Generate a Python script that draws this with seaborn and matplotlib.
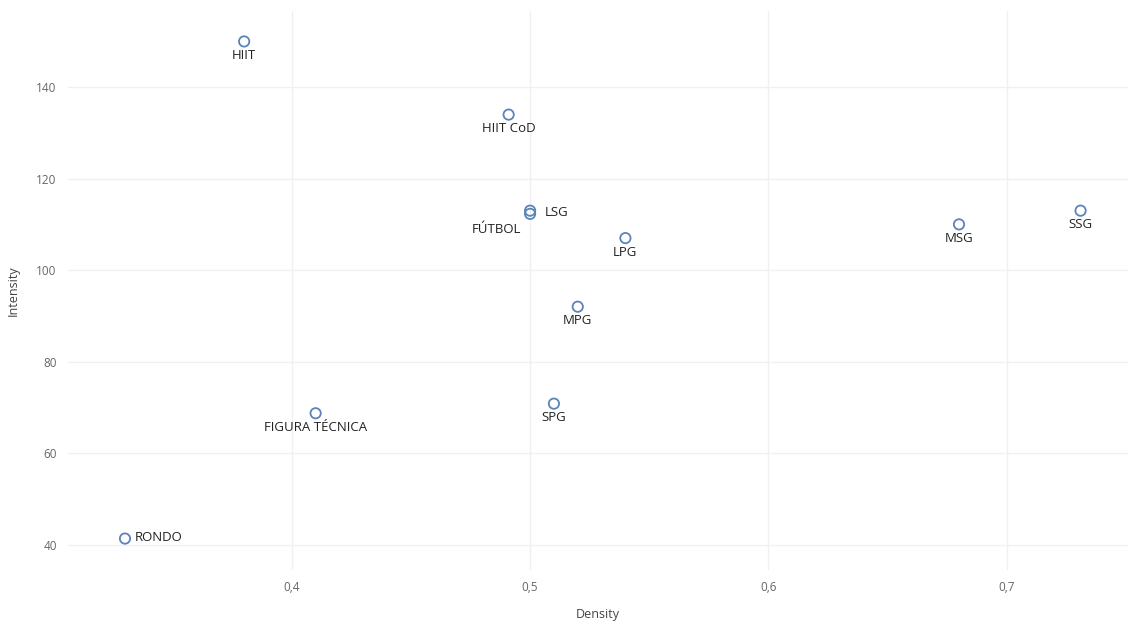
import numpy as np
import pandas as pd
import matplotlib
matplotlib.use('Agg')
import matplotlib.pyplot as plt
import matplotlib.ticker as mticker
import seaborn as sns

# values
labels = ['HIIT', 'HIIT CoD', 'LSG', 'FÚTBOL', 'LPG', 'MSG', 'SSG',
          'MPG', 'SPG', 'FIGURA TÉCNICA', 'RONDO']
density = [0.38, 0.491, 0.50, 0.50, 0.54, 0.68, 0.731, 0.52, 0.51, 0.41, 0.33]
intensity = [150, 134, 113, 112.3, 107, 110, 113, 92, 70.8, 68.7, 41.3]

# label placement: (dx, dy) in pixels, horizontal alignment
offsets = {
    'LSG': (15, -2, 'left'),
    'FÚTBOL': (-9, -16, 'right'),
    'RONDO': (10, 1, 'left'),
}

df = pd.DataFrame({'label': labels, 'Density': density, 'Intensity': intensity})

sns.set_style('whitegrid')
plt.rcParams['font.family'] = ['Open Sans', 'DejaVu Sans']

fig = plt.figure(figsize=(11.3, 6.26), dpi=100)
ax = fig.add_axes([0.060, 0.090, 0.938, 0.892])

sns.scatterplot(data=df, x='Density', y='Intensity', ax=ax, s=55,
                facecolor='none', edgecolor='#5a84ba', linewidth=1.3, zorder=3)

for _, row in df.iterrows():
    dx, dy, ha = offsets.get(row['label'], (0, -14, 'center'))
    ax.annotate(row['label'], (row['Density'], row['Intensity']),
                xytext=(dx, dy), textcoords='offset pixels',
                ha=ha, va='center', fontsize=9.5, color='#222222')

ax.set_xlim(0.306, 0.7508)
ax.set_ylim(34.5, 156.6)
ax.set_xticks([0.4, 0.5, 0.6, 0.7])
ax.set_yticks([40, 60, 80, 100, 120, 140])
ax.xaxis.set_major_formatter(mticker.FuncFormatter(lambda v, p: f'{v:.1f}'.replace('.', ',')))

ax.grid(color='#f0f0f0', linewidth=1)
for s in ax.spines.values():
    s.set_visible(False)
ax.tick_params(axis='both', labelsize=8.5, colors='#666666', length=0, pad=8)
ax.set_xlabel('Density', fontsize=9, color='#444444', labelpad=10)
ax.set_ylabel('Intensity', fontsize=9, color='#444444', labelpad=12)

fig.savefig('out.png', dpi=100)
